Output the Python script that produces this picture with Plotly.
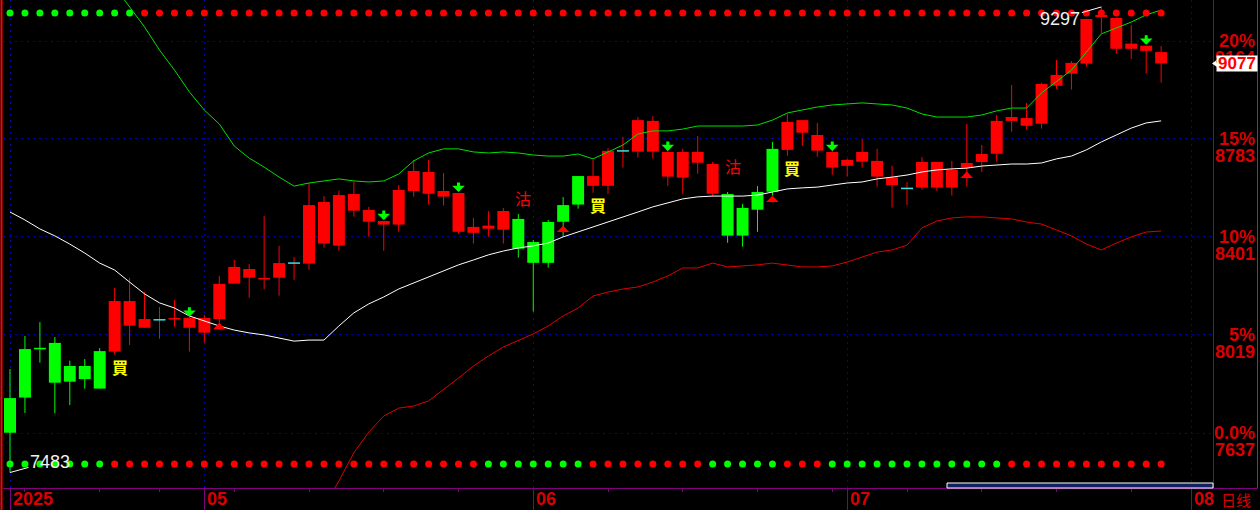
import plotly.graph_objects as go

# ---------------- data ----------------
open_ = [7638, 7775, 7960, 7988, 7837, 7898, 7810, 7954, 8151, 8047,
         8078, 8080, 8086, 8085, 8081, 8219, 8276, 8236, 8242, 8299,
         8297, 8537, 8367, 8568, 8506, 8463, 8449, 8580, 8654, 8580,
         8572, 8417, 8433, 8429, 8471, 8381, 8300, 8460, 8527, 8638,
         8600, 8736, 8733, 8853, 8732, 8632, 8732, 8685, 8568, 8406,
         8507, 8577, 8740, 8856, 8798, 8732, 8678, 8694, 8697, 8633,
         8590, 8593, 8693, 8593, 8671, 8693, 8725, 8853, 8864, 8842,
         8990, 9037, 9076, 9257, 9254, 9134, 9146, 9121]
high = [7886, 8015, 8069, 8011, 7919, 7925, 7968, 8202, 8242, 8186,
        8128, 8155, 8089, 8097, 8249, 8312, 8295, 8482, 8366, 8323,
        8611, 8560, 8581, 8616, 8518, 8463, 8603, 8701, 8701, 8650,
        8572, 8475, 8502, 8514, 8490, 8389, 8467, 8556, 8638, 8701,
        8747, 8790, 8868, 8872, 8751, 8744, 8794, 8693, 8576, 8529,
        8599, 8771, 8880, 8856, 8845, 8740, 8706, 8782, 8744, 8678,
        8615, 8712, 8693, 8697, 8841, 8759, 8876, 8993, 8923, 9001,
        9090, 9086, 9250, 9297, 9254, 9227, 9146, 9145]
low = [7483, 7715, 7911, 7714, 7746, 7810, 7810, 7942, 7980, 8047,
       8004, 8051, 7954, 7989, 8046, 8219, 8164, 8197, 8172, 8234,
       8273, 8359, 8347, 8480, 8402, 8347, 8421, 8558, 8527, 8523,
       8413, 8375, 8402, 8375, 8320, 8110, 8281, 8402, 8511, 8573,
       8569, 8671, 8710, 8706, 8600, 8569, 8647, 8558, 8378, 8363,
       8421, 8562, 8717, 8756, 8713, 8643, 8636, 8671, 8597, 8515,
       8525, 8585, 8580, 8562, 8597, 8654, 8694, 8811, 8819, 8823,
       8978, 8975, 9064, 9194, 9115, 9094, 9037, 9002]
close = [7773, 7964, 7966, 7833, 7898, 7847, 7956, 8151, 8055, 8081,
         8078, 8082, 8047, 8028, 8218, 8284, 8242, 8238, 8299, 8299,
         8525, 8375, 8564, 8503, 8460, 8449, 8584, 8658, 8569, 8558,
         8421, 8440, 8445, 8502, 8355, 8300, 8459, 8525, 8638, 8600,
         8736, 8736, 8856, 8733, 8636, 8732, 8690, 8569, 8406, 8514,
         8576, 8744, 8849, 8807, 8737, 8671, 8701, 8732, 8636, 8603,
         8590, 8693, 8593, 8662, 8689, 8724, 8853, 8868, 8834, 8997,
         9032, 9079, 9250, 9266, 9134, 9154, 9126, 9077]

# Bollinger bands
boll_mid = [8498, 8467, 8432, 8405, 8373, 8338, 8299, 8272, 8225, 8179,
            8144, 8124, 8093, 8073, 8054, 8038, 8027, 8019, 8007, 7995,
            7999, 7999, 8054, 8105, 8140, 8167, 8198, 8221, 8245, 8268,
            8292, 8311, 8331, 8346, 8358, 8366, 8377, 8401, 8420, 8440,
            8459, 8479, 8498, 8518, 8533, 8549, 8557, 8560, 8560, 8560,
            8564, 8576, 8588, 8592, 8595, 8603, 8611, 8615, 8627, 8634,
            8642, 8654, 8662, 8666, 8669, 8677, 8681, 8685, 8685, 8689,
            8705, 8716, 8740, 8771, 8798, 8825, 8845, 8853]
boll_up = [None, None, None, None, None, None, 9453, 9375, 9301, 9219,
           9129, 9051, 8966, 8895, 8841, 8755, 8708, 8673, 8634, 8599,
           8611, 8619, 8627, 8619, 8615, 8619, 8646, 8697, 8728, 8744,
           8744, 8732, 8728, 8732, 8728, 8720, 8716, 8716, 8724, 8705,
           8732, 8759, 8802, 8814, 8814, 8821, 8833, 8833, 8833, 8833,
           8837, 8856, 8884, 8895, 8907, 8915, 8919, 8923, 8919, 8915,
           8903, 8880, 8868, 8868, 8868, 8876, 8892, 8903, 8903, 8962,
           9005, 9051, 9121, 9192, 9215, 9238, 9266, 9285]
boll_low = [None, None, None, None, None, None, None, None, None, None,
            None, None, None, None, None, None, None, None, None, None,
            7260, 7350, 7450, 7560, 7641, 7703, 7734, 7742, 7762, 7805,
            7851, 7898, 7937, 7972, 7999, 8023, 8054, 8093, 8124, 8171,
            8186, 8198, 8206, 8225, 8249, 8280, 8280, 8299, 8284, 8288,
            8292, 8299, 8292, 8284, 8284, 8288, 8303, 8323, 8342, 8350,
            8369, 8436, 8463, 8475, 8479, 8479, 8475, 8471, 8459, 8451,
            8428, 8405, 8373, 8350, 8377, 8401, 8420, 8424]

# trend state of each candle (G = green, R = red)
candle_state = ("GGGGGGG" "RRRRRRRRRRRRRRRRRRRRRRRRRRR" "GGGGG" "RRRRRRRRR"
                "GGGG" "RRRRRRRRRRRRRRRRRRRRRRRRRR")
# indicator dot rows
top_dots = ("GGGGGGGGG" "RRRRRRRRRRRRRRRRRRRRRRRRRRRRRRRRRRRRRRRRRRRRRRRRR"
            "RRRRRRRRRRRRRRRRRRRR")
bottom_dots = ("GGGGGGG" "RRRRRRRRRRRRRRRRRRRRRRRRR" "GGGGGGG" "RRRRRRRR"
               "GGGGG" "RRR" "GGGGGGGGGGGG" "RRRRRRRRRRR")

buy_idx = [7, 39, 52]
sell_idx = [34, 48]
down_arrow_idx = [12, 25, 30, 44, 55, 76]
up_arrow_idx = [14, 37, 51, 64]

axis_pct = ["0.0%", "5%", "10%", "15%", "20%"]
axis_price = [7637, 8019, 8401, 8783, 9164]
month_labels = ["2025", "05", "06", "07", "08"]
month_idx = [0, 13, 35, 56, 79]
week_idx = [1, 6, 10, 15, 20, 25, 30, 40, 45, 50, 55, 60, 65, 70, 75]
low_label = 7483
high_label = 9297
last_price = close[-1]

# ---------------- style ----------------
W, H = 1260, 510
RED = "#FF0000"
GREEN = "#00FF00"
AXRED = "#D80000"
PURPLE = "#800080"
GRID = "#0000B4"
NUMFONT = "Liberation Sans"
CJK = "Noto Sans CJK TC"
COL = {"G": GREEN, "R": RED}


def px(xp):
    return xp / W


def py(yp):
    return 1 - yp / H


n = len(close)
xs = list(range(n))
fig = go.Figure()

# wicks
for st in "GR":
    wx, wy = [], []
    for i in xs:
        if candle_state[i] == st:
            wx += [i, i, None]
            wy += [low[i], high[i], None]
    fig.add_trace(go.Scatter(x=wx, y=wy, mode="lines", line=dict(color=COL[st], width=1),
                             hoverinfo="skip"))

# bodies
bx, bbase, bh, bcol = [], [], [], []
dx, dy, dcol = [], [], []
for i in xs:
    o, c = open_[i], close[i]
    if abs(c - o) <= 6:
        dx += [i - 0.4, i + 0.4, None]
        dy += [c, c, None]
        dcol.append("#40E0E0" if o == c else COL[candle_state[i]])
    else:
        bx.append(i)
        bbase.append(min(o, c))
        bh.append(abs(c - o))
        bcol.append(COL[candle_state[i]])
fig.add_trace(go.Bar(x=bx, y=bh, base=bbase, width=0.8, marker=dict(color=bcol, line=dict(width=0)),
                     hoverinfo="skip"))
# doji lines
for k in range(len(dcol)):
    fig.add_trace(go.Scatter(x=dx[3 * k:3 * k + 2], y=dy[3 * k:3 * k + 2], mode="lines",
                             line=dict(color=dcol[k], width=1.5), hoverinfo="skip"))

# Bollinger
fig.add_trace(go.Scatter(x=xs, y=boll_up, mode="lines", line=dict(color="#00E000", width=1), hoverinfo="skip"))
fig.add_trace(go.Scatter(x=xs, y=boll_mid, mode="lines", line=dict(color="#FFFFFF", width=1), hoverinfo="skip"))
fig.add_trace(go.Scatter(x=xs, y=boll_low, mode="lines", line=dict(color="#E00000", width=1), hoverinfo="skip"))

# dot rows
TOP_Y, BOT_Y = 9273, 7516
fig.add_trace(go.Scatter(x=xs, y=[TOP_Y] * n, mode="markers",
                         marker=dict(size=7, color=[COL[s] for s in top_dots]), hoverinfo="skip"))
fig.add_trace(go.Scatter(x=xs, y=[BOT_Y] * n, mode="markers",
                         marker=dict(size=7, color=[COL[s] for s in bottom_dots]), hoverinfo="skip"))

ann = []
# buy / sell labels
for i in buy_idx:
    ann.append(dict(x=i, y=low[i], xref="x", yref="y", text="<b>買</b>", showarrow=False,
                    xanchor="left", yanchor="middle", xshift=-5, yshift=-12,
                    font=dict(family=CJK, size=16, color="#FFFF00")))
for i, sh in zip(sell_idx, [16, 26]):
    ann.append(dict(x=i, y=high[i], xref="x", yref="y", text="沽", showarrow=False,
                    xanchor="left", yanchor="middle", xshift=-5, yshift=sh,
                    font=dict(family=CJK, size=16, color=RED)))
# arrows
for i in down_arrow_idx:
    ann.append(dict(x=i, y=max(open_[i], close[i]), xref="x", yref="y", text="", showarrow=True,
                    ax=0, ay=-12, axref="pixel", ayref="pixel", arrowhead=1, arrowsize=0.7,
                    arrowwidth=3, arrowcolor=GREEN, standoff=1))
for i in up_arrow_idx:
    ann.append(dict(x=i, y=min(open_[i], close[i]), xref="x", yref="y", text="", showarrow=True,
                    ax=0, ay=12, axref="pixel", ayref="pixel", arrowhead=1, arrowsize=0.7,
                    arrowwidth=3, arrowcolor=RED, standoff=4))
# low / high labels
ann.append(dict(x=low.index(low_label), y=low_label, xref="x", yref="y", text=str(low_label),
                showarrow=True, ax=40, ay=-11, arrowhead=0, arrowwidth=1, arrowcolor="#FFFFFF",
                font=dict(family=NUMFONT, size=18, color="#F0F0F0")))
ann.append(dict(x=high.index(high_label), y=high_label, xref="x", yref="y", text=str(high_label),
                showarrow=True, ax=-41, ay=12, arrowhead=0, arrowwidth=1, arrowcolor="#FFFFFF",
                font=dict(family=NUMFONT, size=18, color="#F0F0F0")))
# right axis labels
for p, v in zip(axis_pct, axis_price):
    ann.append(dict(x=px(1257), y=v, xref="paper", yref="y", text="<b>%s</b>" % p, showarrow=False,
                    xanchor="right", yanchor="middle", font=dict(family=NUMFONT, size=18, color=AXRED)))
    ann.append(dict(x=px(1257), y=v, xref="paper", yref="y", text="<b>%d</b>" % v, showarrow=False,
                    xanchor="right", yanchor="middle", yshift=-17,
                    font=dict(family=NUMFONT, size=18, color=AXRED)))
# last price tag
ann.append(dict(x=px(1237), y=last_price, xref="paper", yref="y", text="<b>%d</b>" % last_price,
                showarrow=False, xanchor="center", yanchor="middle", bgcolor="#FFFFFF",
                width=40, height=15, borderpad=0, font=dict(family=NUMFONT, size=17, color=RED)))
# month labels
for lab, i in zip(month_labels, month_idx):
    ann.append(dict(x=i, y=py(499), xref="x", yref="paper", text="<b>%s</b>" % lab, showarrow=False,
                    xanchor="left", yanchor="middle", xshift=1,
                    font=dict(family=NUMFONT, size=18, color=AXRED)))
ann.append(dict(x=px(1236), y=py(499), xref="paper", yref="paper", text="日线", showarrow=False,
                xanchor="center", yanchor="middle",
                font=dict(family="Noto Sans CJK SC", size=15, color=AXRED)))

shapes = [
    dict(type="line", xref="paper", yref="paper", x0=px(1.5), x1=px(1.5), y0=0, y1=1,
         line=dict(color=RED, width=2)),
    dict(type="line", xref="paper", yref="paper", x0=px(1257.5), x1=px(1257.5), y0=py(489), y1=1,
         line=dict(color=RED, width=1)),
    dict(type="line", xref="paper", yref="paper", x0=px(1213), x1=px(1258), y0=py(488.5), y1=py(488.5),
         line=dict(color=PURPLE, width=1)),
    dict(type="rect", xref="paper", yref="paper", x0=px(947), x1=px(1213), y0=py(488), y1=py(483),
         fillcolor="#102060", line=dict(color="#FFFFFF", width=1)),
    dict(type="path", xref="paper", yref="y",
         path="M %f,%f L %f,%f L %f,%f Z" % (px(1212), last_price, px(1217), last_price + 14,
                                             px(1217), last_price - 14),
         fillcolor="#FFFFFF", line=dict(width=0)),
]

fig.update_layout(
    width=W, height=H, margin=dict(l=0, r=0, t=0, b=0),
    paper_bgcolor="#000000", plot_bgcolor="#000000", showlegend=False,
    barmode="overlay", annotations=ann, shapes=shapes,
    xaxis=dict(domain=[px(3), px(1213)], range=[-0.468, 80.468], showgrid=True, gridcolor=GRID,
               griddash="2px,4px", gridwidth=1, tickmode="array", tickvals=month_idx,
               ticks="outside", ticklen=21, tickwidth=1, tickcolor=PURPLE, showticklabels=False,
               showline=True, linecolor=PURPLE, linewidth=1, zeroline=False, fixedrange=True,
               minor=dict(tickmode="array", tickvals=week_idx, ticks="outside", ticklen=3,
                          tickcolor=PURPLE, showgrid=False)),
    yaxis=dict(domain=[1 - 488 / H, 1], range=[7422.7, 9324], side="right", tickmode="array",
               tickvals=axis_price, showticklabels=False, ticks="", showgrid=True, gridcolor=GRID,
               griddash="2px,4px", gridwidth=1, showline=True, linecolor=PURPLE, linewidth=1,
               zeroline=False, fixedrange=True),
)

fig.write_html("out.html", config={"displayModeBar": False},
               post_script="document.body.style.margin='0px';document.body.style.background='#000';"
                           "document.body.style.overflow='hidden';")
